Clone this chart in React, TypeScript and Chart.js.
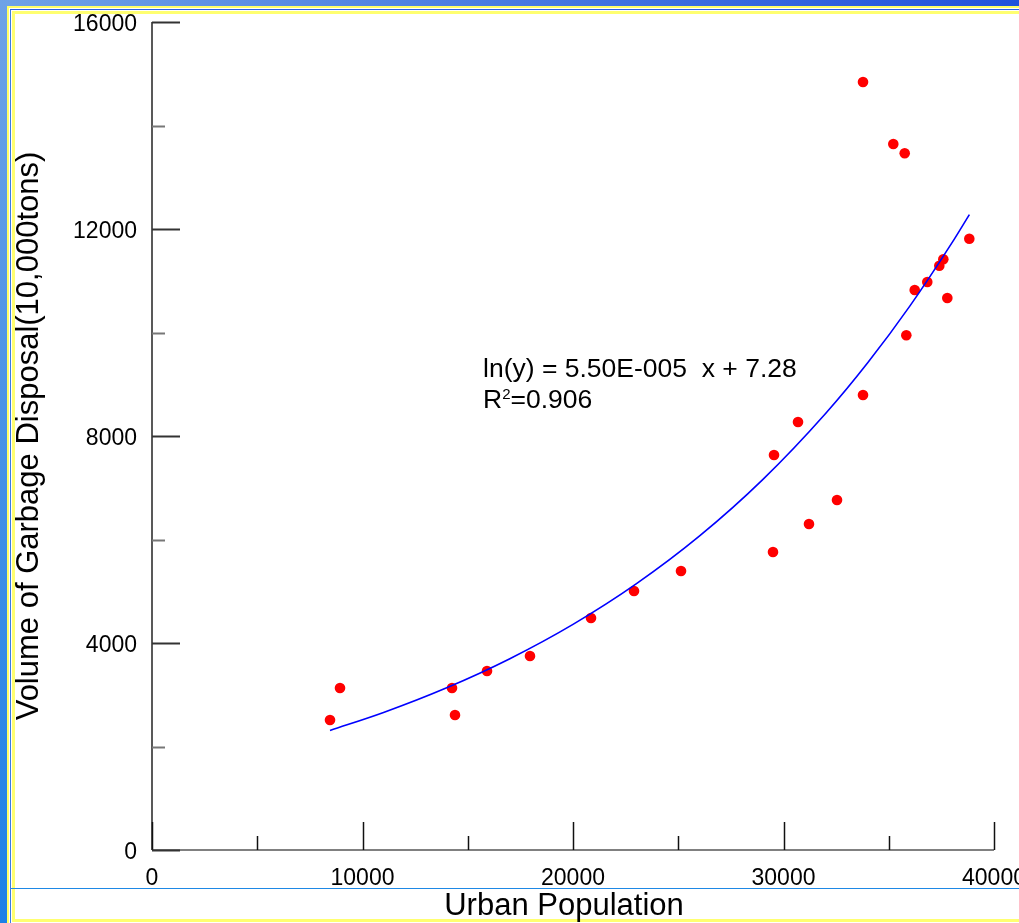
import React, { useEffect, useRef } from "react";
import { Chart, registerables } from "chart.js";

Chart.register(...registerables);

// Observed data (Urban Population vs Volume of Garbage Disposal)
const populationX = [8456, 8931, 14252, 14394, 15915, 17957, 20855, 22898, 25131, 29501, 29549, 30689, 31211, 32542, 33777, 33777, 35216, 35758, 35834, 36233, 36831, 37402, 37592, 37782, 38827];
const garbageY = [2512, 3130, 3130, 2609, 3459, 3749, 4483, 5005, 5391, 5759, 7633, 8271, 6300, 6763, 14841, 8792, 13643, 13463, 9946, 10821, 10976, 11291, 11415, 10667, 11813];

// Fitted curve points
const fitX = [8456, 11000, 14000, 17000, 20000, 23000, 26000, 29000, 32000, 34000, 36000, 38000, 38830];
const fitY = [2310, 2657, 3134, 3696, 4359, 5141, 6063, 7151, 8434, 9414, 10509, 11731, 12279];

// Axis ticks
const xLabeledTicks = [0, 10000, 20000, 30000, 40000];
const yLabeledTicks = [0, 4000, 8000, 12000, 16000];
const xMinorStep = 5000;
const yMinorStep = 2000;

// Texts
const xTitle = "Urban Population";
const yTitle = "Volume of Garbage Disposal(10,000tons)";
const equationLine = "ln(y) = 5.50E-005  x + 7.28";
const rLabel = "R";
const rSup = "2";
const rValue = "=0.906";

const FONT = "'Liberation Sans', Arial, Helvetica, sans-serif";

const inwardAxes = {
  id: "inwardAxes",
  beforeDatasetsDraw(chart: any) {
    const { ctx, chartArea, scales } = chart;
    const xs = scales.x;
    const ys = scales.y;
    ctx.save();
    // x axis line
    ctx.strokeStyle = "#808080";
    ctx.lineWidth = 2;
    ctx.beginPath();
    ctx.moveTo(chartArea.left, chartArea.bottom);
    ctx.lineTo(chartArea.right, chartArea.bottom);
    ctx.stroke();
    // y axis line
    ctx.strokeStyle = "#222";
    ctx.lineWidth = 1.5;
    ctx.beginPath();
    ctx.moveTo(chartArea.left, chartArea.top);
    ctx.lineTo(chartArea.left, chartArea.bottom);
    ctx.stroke();
    // x ticks (inward, upward)
    xs.ticks.forEach((t: any) => {
      const px = Math.round(xs.getPixelForValue(t.value)) + 0.5;
      const major = xLabeledTicks.includes(t.value);
      const len = major ? 28 : 14;
      ctx.strokeStyle = "#111";
      ctx.lineWidth = 1.5;
      ctx.beginPath();
      ctx.moveTo(px, chartArea.bottom);
      ctx.lineTo(px, chartArea.bottom - len);
      ctx.stroke();
    });
    // y ticks (inward, rightward)
    ys.ticks.forEach((t: any) => {
      const py = Math.round(ys.getPixelForValue(t.value)) + 0.5;
      const major = yLabeledTicks.includes(t.value);
      const len = major ? 28 : 13;
      ctx.strokeStyle = major ? "#333" : "#777";
      ctx.lineWidth = 2;
      ctx.beginPath();
      ctx.moveTo(chartArea.left, py);
      ctx.lineTo(chartArea.left + len, py);
      ctx.stroke();
    });
    ctx.restore();
  },
  afterDraw(chart: any) {
    const { ctx, chartArea } = chart;
    ctx.save();
    ctx.fillStyle = "#000";
    // x axis title
    ctx.textAlign = "center";
    ctx.textBaseline = "middle";
    ctx.font = `31px ${FONT}`;
    ctx.fillText(xTitle, (chartArea.left + chartArea.right) / 2 - 9, 906);
    // equation
    ctx.textAlign = "left";
    ctx.textBaseline = "alphabetic";
    const left = chartArea.left + 331;
    ctx.font = `26.5px ${FONT}`;
    ctx.fillText(equationLine, left, chartArea.top + 355);
    ctx.fillText(rLabel, left, chartArea.top + 386);
    const rw = ctx.measureText(rLabel).width;
    ctx.font = `15px ${FONT}`;
    ctx.fillText(rSup, left + rw, chartArea.top + 377);
    const sw = ctx.measureText(rSup).width;
    ctx.font = `26.5px ${FONT}`;
    ctx.fillText(rValue, left + rw + sw, chartArea.top + 386);
    ctx.restore();
  },
};

export default function App() {
  const canvasRef = useRef<HTMLCanvasElement | null>(null);

  useEffect(() => {
    if (!canvasRef.current) return;
    const chart = new Chart(canvasRef.current, {
      type: "scatter",
      data: {
        datasets: [
          {
            type: "line",
            label: "fit",
            data: fitX.map((x, i) => ({ x, y: fitY[i] })),
            borderColor: "#0000ff",
            borderWidth: 1.6,
            pointRadius: 0,
            fill: false,
            cubicInterpolationMode: "monotone",
          } as any,
          {
            type: "scatter",
            label: "data",
            data: populationX.map((x, i) => ({ x, y: garbageY[i] })),
            backgroundColor: "#ff0000",
            borderColor: "#ff0000",
            borderWidth: 0,
            pointRadius: 5.3,
          },
        ],
      },
      options: {
        responsive: false,
        animation: false,
        events: [],
        layout: { padding: { left: 0, top: 22, right: 25, bottom: 0 } },
        plugins: { legend: { display: false }, tooltip: { enabled: false } },
        scales: {
          x: {
            type: "linear",
            min: 0,
            max: 40000,
            grid: { display: false, drawTicks: false },
            border: { display: false },
            ticks: {
              stepSize: xMinorStep,
              autoSkip: false,
              maxRotation: 0,
              padding: 15,
              color: "#000",
              font: { family: FONT, size: 23 },
              callback: (v: any) => (xLabeledTicks.includes(Number(v)) ? String(v) : ""),
            },
            title: { display: false },
            afterFit: (s: any) => {
              s.height = 73;
              s.paddingLeft = 0;
              s.paddingRight = 0;
            },
          },
          y: {
            type: "linear",
            min: 0,
            max: 16000,
            grid: { display: false, drawTicks: false },
            border: { display: false },
            ticks: {
              stepSize: yMinorStep,
              autoSkip: false,
              padding: 15,
              labelOffset: 3,
              color: "#000",
              font: { family: FONT, size: 23 },
              callback: (v: any) => (yLabeledTicks.includes(Number(v)) ? String(v) : ""),
            },
            title: {
              display: true,
              text: yTitle,
              color: "#000",
              font: { family: FONT, size: 31 },
              padding: { top: 11, bottom: 0 },
            },
            afterFit: (s: any) => {
              s.width = 152;
              s.paddingTop = 0;
              s.paddingBottom = 0;
            },
          },
        },
      },
      plugins: [inwardAxes],
    });
    return () => chart.destroy();
  }, []);

  const abs = (style: React.CSSProperties): React.CSSProperties => ({ position: "absolute", ...style });

  return (
    <div style={{ position: "fixed", left: 0, top: 0, width: 1019, height: 923, background: "#fff", overflow: "hidden" }}>
      {/* decorative frame */}
      <div style={abs({ left: 0, top: 0, width: 7, height: 923, background: "linear-gradient(#6ea2e6, #1c80e6)" })} />
      <div style={abs({ left: 0, top: 0, width: 1019, height: 6, background: "linear-gradient(90deg, #6ea2e6, #2152dc)" })} />
      <div style={abs({ left: 7, top: 6, width: 2, height: 917, background: "#ffff66" })} />
      <div style={abs({ left: 7, top: 6, width: 1012, height: 2, background: "#ffff66" })} />
      <div style={abs({ left: 10, top: 9, width: 1, height: 914, background: "#3a7de0" })} />
      <div style={abs({ left: 10, top: 9, width: 1009, height: 1, background: "#2c5fe0" })} />
      <div style={abs({ left: 12, top: 11, width: 3, height: 911, background: "#ffff70" })} />
      <div style={abs({ left: 12, top: 11, width: 1007, height: 3, background: "#ffff70" })} />
      <div style={abs({ left: 12, top: 919, width: 1007, height: 3, background: "#ffff70" })} />
      <div style={abs({ left: 11, top: 888, width: 1008, height: 1, background: "#1e88e5" })} />
      <canvas ref={canvasRef} width={1019} height={923} style={abs({ left: 0, top: 0, width: 1019, height: 923 })} />
    </div>
  );
}
